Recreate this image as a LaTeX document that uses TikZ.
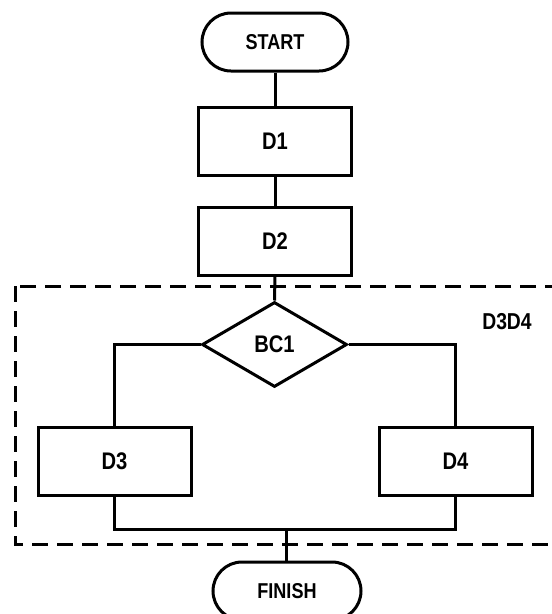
\documentclass[tikz,border=0pt]{standalone}
\usepackage{fontspec}
\setmainfont{Liberation Sans}[FakeStretch=0.84]
\usetikzlibrary{shapes.geometric}
\begin{document}
\begin{tikzpicture}[x=1pt,y=-1pt,
  line width=3pt,
  box/.style={draw,rectangle,inner sep=0pt,minimum width=153pt,minimum height=68pt,font=\bfseries\fontsize{24}{24}\selectfont},
  term/.style={draw,rectangle,rounded corners=29pt,inner sep=0pt,minimum width=146pt,minimum height=58pt,font=\bfseries\fontsize{21.5}{22}\selectfont},
  decision/.style={draw,diamond,inner sep=0pt,minimum width=145pt,minimum height=85pt,font=\bfseries\fontsize{24}{24}\selectfont},
  conn/.style={line width=3pt},
  groupbox/.style={line width=3pt,dash pattern=on 16pt off 9pt}]
\clip (0,0) rectangle (552,614);
\fill[white] (0,0) rectangle (552,614);
\node[term] (start) at (275,42) {START};
\node[box] (d1) at (275,141) {D1};
\node[box] (d2) at (275,241) {D2};
\draw[groupbox] (15,286) rectangle (580,544);
\node[font=\bfseries\fontsize{23}{23}\selectfont] (lbl) at (507,322) {D3D4};
\node[decision] (bc1) at (274.5,344.5) {BC1};
\node[box] (d3) at (114.5,461) {D3};
\node[box] (d4) at (455.5,461) {D4};
\node[term,minimum width=148pt] (finish) at (287,591) {FINISH};
\coordinate (merge) at (286,529);
\draw[conn] (start.south) -- (d1.north);
\draw[conn] (d1.south) -- (d2.north);
\draw[conn] (d2.south) -- (bc1.north);
\draw[conn] (bc1.west) -| (d3.north);
\draw[conn] (bc1.east) -| (d4.north);
\draw[conn] (d3.south) |- (merge) -| (d4.south);
\draw[conn] (merge) -- (merge |- finish.north);
\end{tikzpicture}
\end{document}
